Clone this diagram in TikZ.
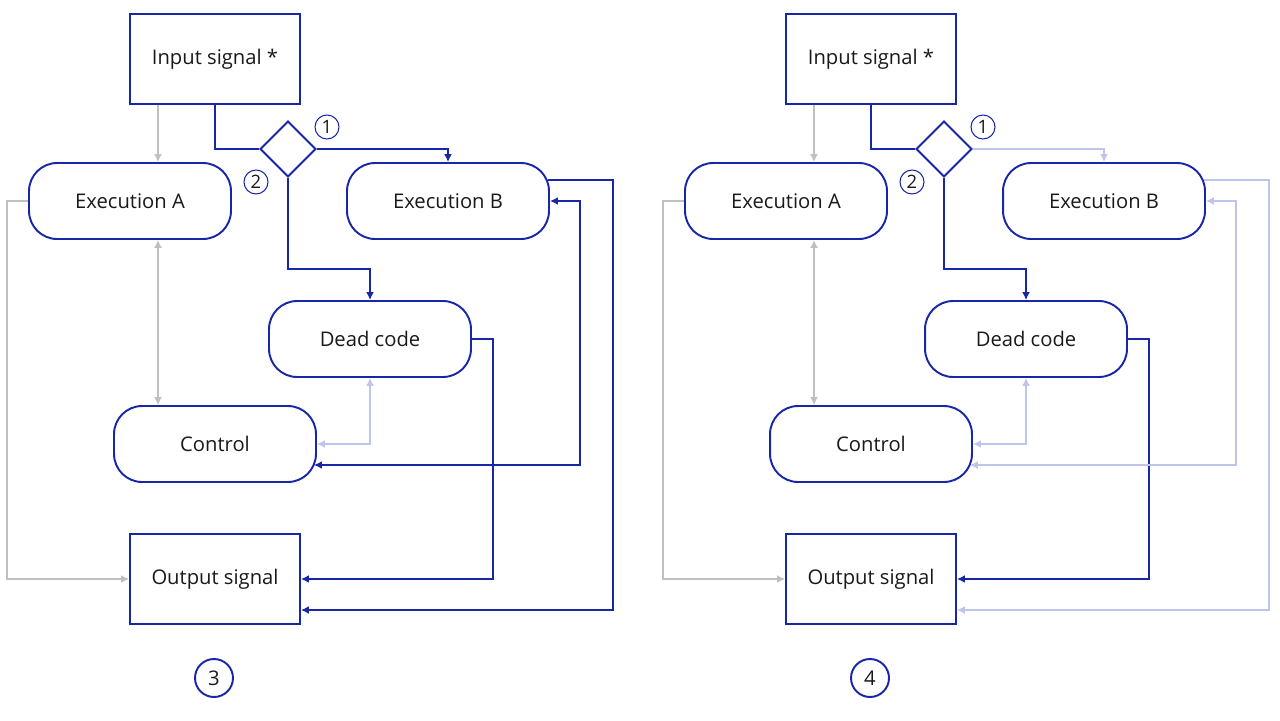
\documentclass[tikz,border=0pt]{standalone}
\usepackage{fontspec}
\setmainfont{Open Sans}
\usetikzlibrary{arrows.meta, calc, shapes.geometric}
\definecolor{flowblue}{RGB}{24, 38, 168}
\definecolor{fadeblue}{RGB}{190, 196, 234}
\definecolor{flowgray}{RGB}{192, 192, 192}
\tikzset{
    every node/.style={font=\fontsize{11.5}{13}\selectfont, text=black!90},
    signal/.style={draw=flowblue, line width=1.1pt, minimum width=3.4cm,
        minimum height=1.8cm},
    block/.style={draw=flowblue, line width=1.1pt, rounded corners=16pt,
        minimum width=4.04cm, minimum height=1.52cm},
    choice/.style={diamond, draw=flowblue, line width=1.1pt,
        minimum size=1.12cm, inner sep=0pt},
    tag/.style={circle, draw=flowblue, line width=0.6pt, minimum size=0.48cm,
        inner sep=0pt, font=\fontsize{10.5}{12}\selectfont},
    bigtag/.style={circle, draw=flowblue, line width=1.1pt,
        minimum size=0.76cm, inner sep=0pt},
    bluelink/.style={draw=flowblue, line width=1.1pt},
    palelink/.style={draw=fadeblue, line width=0.85pt},
    greylink/.style={draw=flowgray, line width=0.85pt},
    pics/flowpanel/.style n args={2}{code={
        \node[signal] (-in) at (215, 59) {Input signal *};
        \node[choice] (-dec) at (288, 149) {};
        \node[tag] (-one) at (327, 127) {1};
        \node[tag] (-two) at (256, 182) {2};
        \node[block] (-ea) at (130, 201) {Execution A};
        \node[block] (-eb) at (448, 201) {Execution B};
        \node[block] (-dc) at (370, 339) {Dead code};
        \node[block] (-ctl) at (215, 444) {Control};
        \node[signal] (-out) at (215, 579) {Output signal};
        \node[bigtag] (-num) at (214, 678) {#1};
        \coordinate (-ta) at ($(-ea.north)+(28, 0)$);
        % decision branches
        \draw[bluelink] (-in.south) |- (-dec.west);
        \draw[#2, ->] (-dec.east) -| (-eb.north);
        \draw[bluelink, ->] (-dec.south) -- ++(0, 91) -| (-dc.north);
        \draw[bluelink, ->] (-dc.east) -- ++(21, 0) |- (-out.east);
        % execution B feedback
        \draw[#2, ->] ($(-eb.east)+(-2, -21)$) -- ++(65, 0)
            |- ($(-out.east)+(0, 31)$);
        \draw[#2, <->] (-eb.east) -- ++(30, 0) |- ($(-ctl.east)+(-3, 21)$);
        \draw[palelink, <->] (-dc.south) |- (-ctl.east);
        % grey paths
        \draw[greylink, ->] (-ta |- -in.south) -- (-ta);
        \draw[greylink, <->] (-ta |- -ea.south) -- (-ta |- -ctl.north);
        \draw[greylink, ->] (-ea.west) -- ++(-21, 0) |- (-out.west);
    }},
}
\begin{document}
\begin{tikzpicture}[x=0.02cm, y=-0.02cm,
        >={Latex[length=4.5pt, width=4.5pt]}]
    \useasboundingbox (0, 0) rectangle (1280, 720);
    \pic (L) at (0, 0) {flowpanel={3}{bluelink}};
    \pic (R) at (656, 0) {flowpanel={4}{palelink}};
\end{tikzpicture}
\end{document}
